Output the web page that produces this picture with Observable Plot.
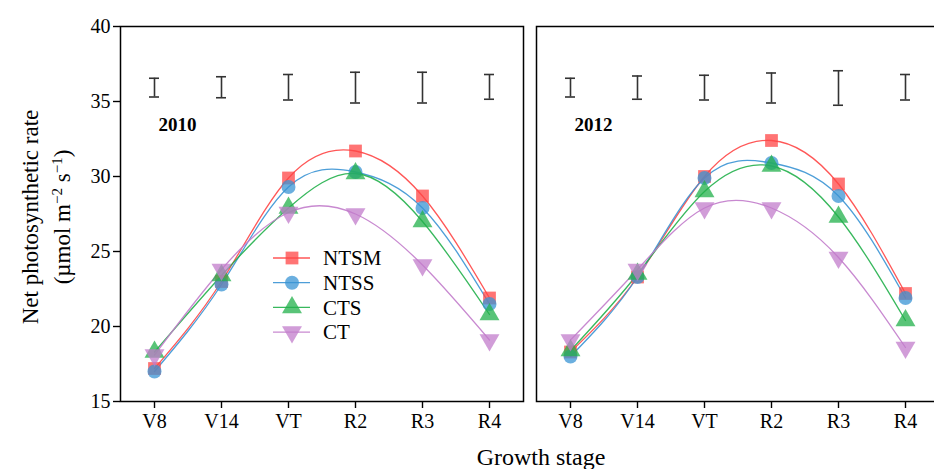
<!DOCTYPE html>
<html>
<head>
<meta charset="utf-8">
<script src="https://cdn.jsdelivr.net/npm/d3@7"></script>
<script src="https://cdn.jsdelivr.net/npm/@observablehq/plot@0.6"></script>
<style>
  html, body { margin: 0; padding: 0; background: #fff; overflow: hidden; }
  #wrap { position: relative; width: 934px; height: 469px; overflow: hidden; font-family: "Liberation Serif", "Times New Roman", serif; color: #000; }
  #ytitle { position: absolute; left: 47px; top: 217px; width: 340px; text-align: center; font-size: 23px; line-height: 32px; transform: translate(-50%, -50%) rotate(-90deg); white-space: nowrap; }
  #ytitle sup { font-size: 15px; vertical-align: 8px; line-height: 0; }
  #xtitle { position: absolute; left: 541px; top: 443px; transform: translateX(-50%); font-size: 24px; line-height: 28px; white-space: nowrap; }
  #legend { position: absolute; left: 270px; top: 245px; }
  #chart { position: absolute; left: 0; top: 0; width: 939px; }
  #chart svg { max-width: none !important; }
</style>
</head>
<body>
<div id="wrap">
  <div id="chart"></div>
  <div id="ytitle">Net photosynthetic rate<br>(µmol m<sup>−2</sup> s<sup>−1</sup>)</div>
  <div id="xtitle">Growth stage</div>
  <div id="legend"></div>
</div>
<script>
// ---- data ----
const stages = ["V8", "V14", "VT", "R2", "R3", "R4"];
const years = ["2010", "2012"];
const treatments = ["NTSM", "NTSS", "CTS", "CT"];
const colors = ["#ff4545", "#3a94d4", "#22b04b", "#c27ccb"];

const ntsm2010 = [17.2, 23.0, 29.9, 31.7, 28.7, 21.9];
const ntss2010 = [17.0, 22.8, 29.3, 30.3, 27.9, 21.5];
const cts2010  = [18.3, 23.4, 27.9, 30.2, 27.0, 20.8];
const ct2010   = [18.1, 23.8, 27.6, 27.5, 24.1, 19.1];

const ntsm2012 = [18.3, 23.3, 30.0, 32.4, 29.5, 22.2];
const ntss2012 = [18.0, 23.3, 29.9, 30.9, 28.7, 21.9];
const cts2012  = [18.4, 23.5, 29.0, 30.7, 27.3, 20.4];
const ct2012   = [19.1, 23.8, 27.9, 27.9, 24.6, 18.6];

const errLow2010  = [35.3, 35.25, 35.1, 34.9, 34.9, 35.15];
const errHigh2010 = [36.55, 36.65, 36.8, 36.95, 36.95, 36.8];
const errLow2012  = [35.3, 35.15, 35.1, 34.9, 34.75, 35.1];
const errHigh2012 = [36.55, 36.7, 36.75, 36.9, 37.05, 36.8];

// ---- build tables ----
const seriesByYear = {
  "2010": [ntsm2010, ntss2010, cts2010, ct2010],
  "2012": [ntsm2012, ntss2012, cts2012, ct2012]
};
const errByYear = {
  "2010": [errLow2010, errHigh2010],
  "2012": [errLow2012, errHigh2012]
};
const rows = [];
for (const year of years) {
  treatments.forEach((t, k) => {
    seriesByYear[year][k].forEach((v, i) => rows.push({year, stage: stages[i], treatment: t, value: v}));
  });
}
const errRows = [];
for (const year of years) {
  stages.forEach((s, i) => errRows.push({year, stage: s, lo: errByYear[year][0][i], hi: errByYear[year][1][i]}));
}

const triangleDown = {
  draw(context, size) {
    const y = -Math.sqrt(size / (Math.sqrt(3) * 3));
    context.moveTo(0, -y * 2);
    context.lineTo(-Math.sqrt(3) * y, y);
    context.lineTo(Math.sqrt(3) * y, y);
    context.closePath();
  }
};
const symbols = ["square", "circle", "triangle", triangleDown];
const sizes = [7.2, 7, 7.4, 7.4];

const marks = [
  Plot.frame({stroke: "#000", strokeWidth: 1.5}),
  Plot.ruleX(errRows, {fx: "year", x: "stage", y1: "lo", y2: "hi", stroke: "#333", strokeWidth: 1.6}),
  Plot.ruleY(errRows, {fx: "year", x1: "stage", x2: "stage", y: "lo", stroke: "#333", strokeWidth: 1.6, insetLeft: -5, insetRight: -5}),
  Plot.ruleY(errRows, {fx: "year", x1: "stage", x2: "stage", y: "hi", stroke: "#333", strokeWidth: 1.6, insetLeft: -5, insetRight: -5}),
  Plot.text(years, {fx: d => d, text: d => d, frameAnchor: "top-left", dx: 38, dy: 98, lineAnchor: "middle", textAnchor: "start", fontWeight: "bold", fontSize: 19})
];
treatments.forEach((t, k) => {
  const data = rows.filter(r => r.treatment === t);
  marks.push(Plot.line(data, {fx: "year", x: "stage", y: "value", z: "year", curve: "natural", stroke: colors[k], strokeWidth: 1.3, strokeOpacity: 0.9}));
});
treatments.forEach((t, k) => {
  const data = rows.filter(r => r.treatment === t);
  marks.push(Plot.dot(data, {fx: "year", x: "stage", y: "value", symbol: symbols[k], r: sizes[k], fill: colors[k], fillOpacity: 0.75, stroke: "none"}));
});

const chart = Plot.plot({
  width: 939,
  height: 469,
  marginLeft: 120,
  marginRight: 0,
  marginTop: 26,
  marginBottom: 68,
  fx: {domain: years, paddingInner: 0.03125, paddingOuter: 0, axis: null, label: null},
  x: {type: "point", domain: stages, padding: 0.5, label: null, tickSize: 7, tickPadding: 5},
  y: {domain: [15, 40], ticks: [15, 20, 25, 30, 35, 40], label: null, tickSize: 7, tickPadding: 3},
  style: {fontFamily: "'Liberation Serif', 'Times New Roman', serif", fontSize: "20px", color: "#000", background: "transparent", overflow: "visible", maxWidth: "none"},
  marks
});
chart.style.maxWidth = "none";
document.getElementById("chart").appendChild(chart);
d3.select(chart).selectAll("[aria-label$='tick'] path, [aria-label$='tick'] line").attr("stroke-width", 1.4);

// ---- legend (plain SVG) ----
const leg = d3.select("#legend").append("svg").attr("width", 120).attr("height", 100)
  .style("font-family", "'Liberation Serif', 'Times New Roman', serif").style("overflow", "visible");
treatments.forEach((t, k) => {
  const g = leg.append("g").attr("transform", `translate(0, ${13 + k * 24.7})`);
  g.append("line").attr("x1", 3).attr("x2", 40).attr("y1", 0).attr("y2", 0)
    .attr("stroke", colors[k]).attr("stroke-width", 1.3).attr("stroke-opacity", 0.9);
  const sym = typeof symbols[k] === "string"
    ? {square: d3.symbolSquare, circle: d3.symbolCircle, triangle: d3.symbolTriangle}[symbols[k]]
    : symbols[k];
  g.append("path").attr("transform", "translate(22,0)")
    .attr("d", d3.symbol(sym, Math.PI * sizes[k] * sizes[k])())
    .attr("fill", colors[k]).attr("fill-opacity", 0.75);
  g.append("text").attr("x", 53).attr("y", 0).attr("dy", "0.35em").attr("font-size", 21).text(t);
});
</script>
</body>
</html>
